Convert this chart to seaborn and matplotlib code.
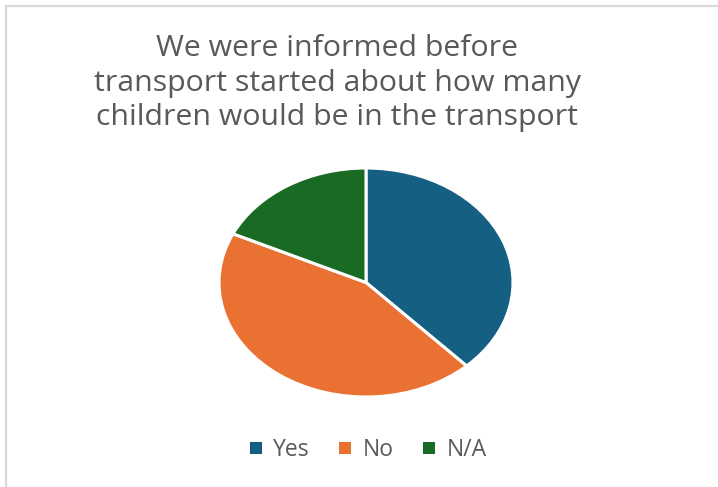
import matplotlib
matplotlib.use("Agg")
import matplotlib.pyplot as plt
import matplotlib.patches as mpatches
import seaborn as sns

# Survey responses
categories = ["Yes", "No", "N/A"]
counts = [19, 22, 9]
colors = ["#156082", "#E97132", "#196B24"]
title_lines = [
    "We were informed before",
    "transport started about how many",
    "children would be in the transport",
]

sns.set_theme(style="white")
plt.rcParams["font.family"] = ["Open Sans", "DejaVu Sans"]

fig = plt.figure(figsize=(7.18, 4.87), dpi=100)
fig.patch.set_facecolor("white")

# Pie drawn into an axes that is wider than tall, giving an elliptical pie
ax = fig.add_axes([219 / 718, 90 / 487, 294 / 718, 229 / 487])
wedges, _ = ax.pie(
    counts,
    colors=colors,
    startangle=90,
    counterclock=False,
    radius=1.0,
    wedgeprops=dict(edgecolor="white", linewidth=2.2),
)
ax.set_aspect("auto")
ax.set_xlim(-1.0, 1.0)
ax.set_ylim(-1.0, 1.0)
for w in wedges:
    w.set_clip_on(False)
ax.axis("off")

# Title
fig.text(
    337 / 718, 1 - 34 / 487,
    "\n".join(title_lines),
    ha="center", va="top",
    fontsize=21.8, color="#595959",
    linespacing=1.26,
)

# Legend
handles = [mpatches.Patch(facecolor=c, edgecolor="none", label=l)
           for c, l in zip(colors, categories)]
fig.legend(
    handles=handles,
    loc="center",
    bbox_to_anchor=(368 / 718, 1 - 450 / 487),
    ncol=3,
    frameon=False,
    fontsize=16.5,
    labelcolor="#595959",
    handlelength=0.53,
    handleheight=0.4,
    handletextpad=0.48,
    columnspacing=1.3,
)

# Chart-area border (top and left edges visible)
fig.add_artist(mpatches.Rectangle(
    (5.5 / 718, -0.05), 1.0, (487 - 5.5) / 487 + 0.05,
    transform=fig.transFigure, fill=False,
    edgecolor="#d9d9d9", linewidth=1.6,
))

fig.savefig("out.png", dpi=100, facecolor="white")
